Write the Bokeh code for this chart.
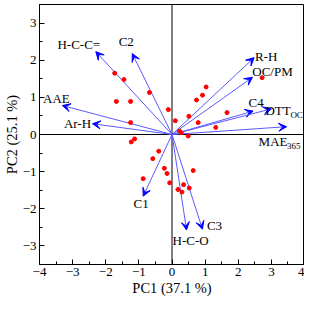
from bokeh.plotting import figure
from bokeh.models import (Range1d, FixedTicker, Span, Arrow, VeeHead,
                          ColumnDataSource)
from bokeh.core.properties import value
from bokeh.embed import file_html
from bokeh.resources import INLINE

# ---- data ----
score_pc1 = [-1.73, -1.45, -0.68, -1.68, -1.25, -1.25, -0.11, 0.10, 1.03, 0.92,
             0.74, 1.66, 0.51, 0.79, 1.32, 0.23, 0.28, 0.49, 2.72, -1.13,
             -1.23, -0.40, -0.58, -0.23, -0.15, 0.64, -0.87, -0.07, 0.35, 0.52,
             0.18, 0.30]
score_pc2 = [1.65, 1.48, 1.13, 0.89, 0.89, 0.32, 0.67, 0.37, 1.28, 1.06,
             0.93, 0.59, 0.49, 0.32, 0.19, 0.09, 0.05, -0.04, 1.53, -0.12,
             -0.20, -0.45, -0.65, -0.91, -1.05, -0.97, -1.19, -1.30, -1.35, -1.44,
             -1.48, -1.55]

var_main = ["H-C-C=", "C2", "AAE", "Ar-H", "R-H", "OC/PM", "C4", "DTT", "MAE",
            "C1", "H-C-O", "C3"]
var_sub = ["", "", "", "", "", "", "", "OC", "365", "", "", ""]
load_pc1 = [-2.30, -1.20, -3.31, -2.40, 2.48, 2.43, 2.45, 3.00, 3.46, -0.87, 0.44, 0.92]
load_pc2 = [2.23, 2.18, 0.78, 0.29, 2.07, 1.54, 0.63, 0.69, 0.21, -1.66, -2.57, -2.55]

x_ticks = [-4, -3, -2, -1, 0, 1, 2, 3, 4]
y_ticks = [-3, -2, -1, 0, 1, 2, 3]

# label placement (screen px offsets from arrow tips) - style only
lab_dx = [-17, -6, -6, -15, 12, 20, 3, -6, -28, -2, 4, 12]
lab_dy = [-7, -12, -7, 0, -1, -6, -9, 2, 15, 7, 11, -4]
lab_align = ["center", "center", "center", "center", "center", "center", "center",
             "left", "left", "center", "center", "center"]
sub_dx = [0, 0, 0, 0, 0, 0, 0, 25, 28.5, 0, 0, 0]

FONT = "Liberation Serif"

p = figure(width=304, height=298, output_backend="svg", toolbar_location=None,
           x_range=Range1d(-4, 4), y_range=Range1d(-3.5, 3.5),
           min_border_left=0, min_border_right=0, min_border_top=4,
           min_border_bottom=0)
p.grid.visible = False
p.background_fill_color = "white"
p.border_fill_color = "white"
p.outline_line_color = "black"
p.outline_line_width = 1
p.outline_line_alpha = 1

for ax, ticks, minor in ((p.xaxis[0], x_ticks, [t + 0.5 for t in x_ticks[:-1]]),
                         (p.yaxis[0], y_ticks, [-3.5] + [t + 0.5 for t in y_ticks])):
    ax.ticker = FixedTicker(ticks=ticks, minor_ticks=minor)
    ax.axis_line_color = "black"
    ax.major_tick_line_color = "black"
    ax.minor_tick_line_color = "black"
    ax.major_tick_in = 5
    ax.major_tick_out = 0
    ax.minor_tick_in = 3
    ax.minor_tick_out = 0
    ax.major_label_text_font = FONT
    ax.major_label_text_font_size = "13px"
    ax.major_label_text_color = "black"
    ax.axis_label_text_font = FONT
    ax.axis_label_text_font_size = "14.5px"
    ax.axis_label_text_font_style = "normal"
    ax.axis_label_text_color = "black"
    ax.major_label_standoff = 3

p.xaxis.axis_label = "PC1 (37.1 %)"
p.yaxis.axis_label = "PC2 (25.1 %)"
p.xaxis.axis_label_standoff = 1
p.yaxis.axis_label_standoff = 0

p.add_layout(Span(location=0, dimension="height", line_color="black",
                  line_width=1, level="underlay"))
p.add_layout(Span(location=0, dimension="width", line_color="black",
                  line_width=1, level="underlay"))

arrow_src = ColumnDataSource(dict(x0=[0] * len(load_pc1), y0=[0] * len(load_pc1),
                                  x1=load_pc1, y1=load_pc2))
p.add_layout(Arrow(source=arrow_src, x_start="x0", y_start="y0", x_end="x1",
                   y_end="y1", line_color="#5a5aff", line_width=1, level="underlay",
                   end=VeeHead(size=8, fill_color="#0000ff",
                               line_color="#0000ff", line_width=1)))

p.scatter(score_pc1, score_pc2, size=4, color="#ff0000", line_color="#ff0000")

lab_src = ColumnDataSource(dict(x=load_pc1, y=load_pc2, t=var_main, dx=lab_dx,
                                dy=lab_dy, al=lab_align, s=var_sub,
                                sdx=[a + b for a, b in zip(lab_dx, sub_dx)],
                                sdy=[d + 4 for d in lab_dy]))
p.text(x="x", y="y", text="t", x_offset="dx", y_offset="dy", text_align="al",
       text_baseline="middle", text_font=value(FONT), text_font_size="13px",
       text_color="black", source=lab_src)
p.text(x="x", y="y", text="s", x_offset="sdx", y_offset="sdy", text_align="left",
       text_baseline="middle", text_font=value(FONT), text_font_size="9px",
       text_color="black", source=lab_src)

open("out.html", "w").write(file_html(p, INLINE))
